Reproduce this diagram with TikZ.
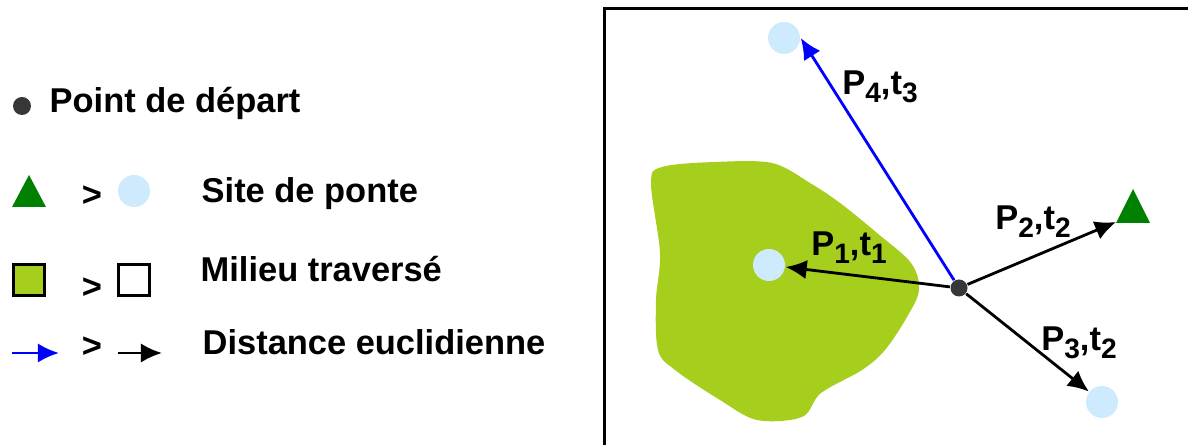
\documentclass[tikz,border=0pt]{standalone}
\usepackage{fontspec}
\setmainfont{Liberation Sans}
\usetikzlibrary{arrows.meta, positioning}
\definecolor{siteblue}{RGB}{205,235,252}
\definecolor{milieugreen}{RGB}{165,206,29}
\definecolor{pontegreen}{RGB}{0,128,0}
\definecolor{departgray}{RGB}{55,55,55}
\newcommand{\plab}[2]{P\raisebox{-0.45ex}{\footnotesize #1},t\raisebox{-0.45ex}{\footnotesize #2}}

\begin{document}
\begin{tikzpicture}[x=0.1mm, y=-0.1mm, font=\fontsize{9.8}{12}\selectfont\bfseries,
  every node/.style={inner sep=0pt},
  site/.style={circle, fill=siteblue, minimum size=3.2mm},
  depart/.style={circle, fill=departgray, minimum size=1.7mm},
  fleche/.style={-{Latex[length=6pt,width=5.5pt]}, line width=0.8pt},
  milieu/.style={draw, line width=0.6pt, minimum size=3.1mm}]
\useasboundingbox (0,0) rectangle (1188,445);
\pgfmathsetmacro{\xDepart}{959}
\pgfmathsetmacro{\yDepart}{288}

% Legend
\node[depart, minimum size=1.8mm] (legdepart) at (22,106) {};
\node[anchor=base west] (txtdepart) at (49,113) {Point de départ};
\fill[pontegreen] (12,207) -- (46,207) -- (29,175) -- cycle; % nid
\node (gt1) at (92,196) {>};
\node[site] (legsite) at (134,191) {};
\node[anchor=base west] (txtsite) at (201,203) {Site de ponte};
\node[milieu, fill=milieugreen] (legmilieu) at (29,280) {};
\node (gt2) at (92,288) {>};
\node[milieu, fill=white] (legvide) at (134,280) {};
\node[anchor=base west] (txtmilieu) at (200,282) {Milieu traversé};
\coordinate (bluestart) at (12,353);
\coordinate (blueend) at (59,353);
\draw[fleche, blue] (bluestart) -- (blueend);
\node (gt3) at (92,347) {>};
\coordinate (blackstart) at (118,353);
\coordinate (blackend) at (162,353);
\draw[fleche] (blackstart) -- (blackend);
\node[anchor=base west] (txtdist) at (202,355) {Distance euclidienne};

% Frame
\draw[line width=0.85pt] (604,460) -- (604,9) -- (1200,9);

% Milieu
\fill[milieugreen] plot[smooth cycle, tension=0.55] coordinates {(662,167) (715,162) (772,163) (810,183) (840,203) (877,233) (911,263) (919,290) (907,317) (885,350) (862,370) (821,393) (802,417) (757,420) (720,400) (675,370) (658,350) (656,300) (660,253) (651,183)};

% Sites and start
\node[site] (site1) at (769,265) {};
\node[site] (site3) at (1102,402) {};
\node[site] (site4) at (784,38) {};
\fill[pontegreen] (1116,223) -- (1150,223) -- (1133,189) -- cycle; % nid
\coordinate (nid) at (1116,222);
\node[depart] (depart) at (\xDepart,\yDepart) {};

\draw[fleche] (depart) -- (site1);
\draw[fleche] (depart) -- (nid);
\draw[fleche] (depart) -- (site3);
\draw[fleche, blue] (depart) -- (site4.east);

\node (lab4) at (880,87) {\plab{4}{3}};
\node (lab1) at (849,248) {\plab{1}{1}};
\node (lab2) at (1033,222) {\plab{2}{2}};
\node (lab3) at (1079,343) {\plab{3}{2}};
\end{tikzpicture}
\end{document}
